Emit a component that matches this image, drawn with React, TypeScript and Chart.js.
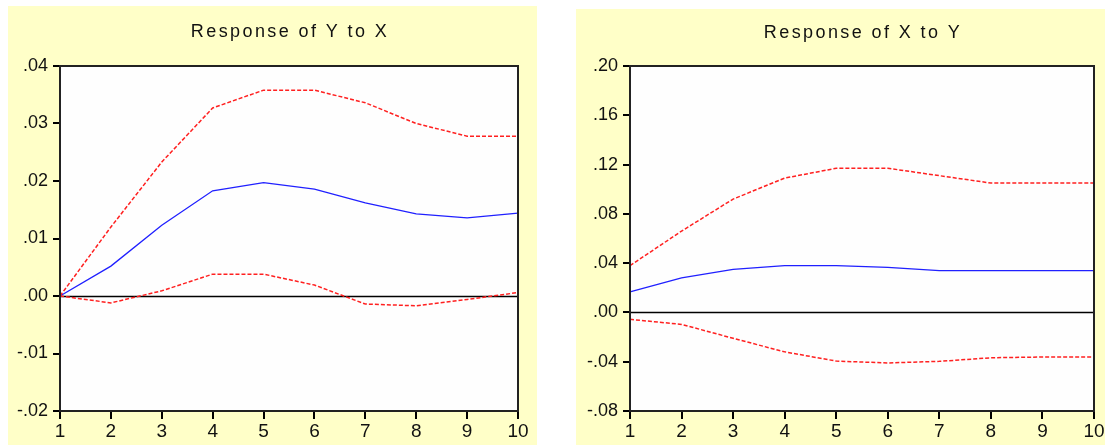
import React, { useEffect, useRef } from 'react';
import { Chart, registerables } from 'chart.js';

Chart.register(...registerables);

const periods = ['1', '2', '3', '4', '5', '6', '7', '8', '9', '10'];

const yToXResponse = [0, 0.0052, 0.0123, 0.0183, 0.0197, 0.0186, 0.0162, 0.0143, 0.0136, 0.0144];
const yToXUpper = [0, 0.012, 0.0233, 0.0327, 0.0358, 0.0358, 0.0336, 0.03, 0.0278, 0.0278];
const yToXLower = [0, -0.0012, 0.0009, 0.0038, 0.0038, 0.0019, -0.0014, -0.0017, -0.0006, 0.0006];

const xToYResponse = [0.0166, 0.028, 0.035, 0.038, 0.038, 0.0365, 0.034, 0.034, 0.034, 0.034];
const xToYUpper = [0.038, 0.066, 0.092, 0.109, 0.117, 0.117, 0.111, 0.105, 0.105, 0.105];
const xToYLower = [-0.0056, -0.0097, -0.021, -0.032, -0.0395, -0.041, -0.0397, -0.0368, -0.0362, -0.0362];

const FONT = '"Liberation Sans", Arial, sans-serif';

function fmt(v: number): string {
  if (Math.abs(v) < 1e-9) return '.00';
  const s = v.toFixed(2);
  return s.replace(/^(-?)0\./, '$1.');
}

type PanelProps = {
  title: string;
  response: number[];
  upper: number[];
  lower: number[];
  yMin: number;
  yMax: number;
  yStep: number;
  left: number;
  top: number;
  width: number;
  height: number;
  padL: number;
  padR: number;
  padT: number;
  padB: number;
  titleBaseline: number;
};

function Panel(p: PanelProps) {
  const ref = useRef<HTMLCanvasElement | null>(null);
  useEffect(() => {
    if (!ref.current) return;
    const framePlugin = {
      id: 'frame',
      beforeDraw(chart: any) {
        const { ctx, chartArea: a } = chart;
        ctx.save();
        ctx.fillStyle = '#fefefe';
        ctx.fillRect(a.left, a.top, a.right - a.left, a.bottom - a.top);
        ctx.restore();
      },
      beforeDatasetsDraw(chart: any) {
        const { ctx, chartArea: a, scales } = chart;
        const y0 = Math.round(scales.y.getPixelForValue(0)) + 0.5;
        ctx.save();
        ctx.strokeStyle = '#000';
        ctx.lineWidth = 1.5;
        ctx.beginPath();
        ctx.moveTo(a.left, y0);
        ctx.lineTo(a.right, y0);
        ctx.stroke();
        ctx.restore();
      },
      afterDraw(chart: any) {
        const { ctx, chartArea: a } = chart;
        ctx.save();
        ctx.strokeStyle = '#222';
        ctx.lineWidth = 2;
        ctx.strokeRect(a.left, a.top, a.right - a.left, a.bottom - a.top);
        (ctx as any).letterSpacing = '2.4px';
        ctx.fillStyle = '#111';
        ctx.font = '18px ' + FONT;
        ctx.textAlign = 'center';
        ctx.textBaseline = 'alphabetic';
        ctx.fillText(p.title, (a.left + a.right) / 2 + 1, p.titleBaseline);
        (ctx as any).letterSpacing = '0px';
        ctx.restore();
      },
    };

    const chart = new Chart(ref.current, {
      type: 'line',
      data: {
        labels: periods,
        datasets: [
          {
            data: p.upper,
            borderColor: '#ff2020',
            borderWidth: 1.5,
            borderDash: [4, 2],
            pointRadius: 0,
            tension: 0,
            fill: false,
          },
          {
            data: p.lower,
            borderColor: '#ff2020',
            borderWidth: 1.5,
            borderDash: [4, 2],
            pointRadius: 0,
            tension: 0,
            fill: false,
          },
          {
            data: p.response,
            borderColor: '#2020ff',
            borderWidth: 1.3,
            pointRadius: 0,
            tension: 0,
            fill: false,
          },
        ],
      },
      options: {
        responsive: false,
        animation: false,
        events: [],
        layout: { padding: { left: 0, right: p.padR, top: p.padT, bottom: 0 } },
        plugins: {
          legend: { display: false },
          tooltip: { enabled: false },
          title: { display: false },
        },
        scales: {
          x: {
            type: 'category',
            offset: false,
            border: { display: false },
            grid: {
              offset: false,
              drawOnChartArea: false,
              drawTicks: true,
              tickLength: 8,
              color: '#000',
              lineWidth: 2,
            },
            ticks: {
              autoSkip: false,
              maxRotation: 0,
              minRotation: 0,
              padding: 1,
              color: '#111',
              font: { family: FONT, size: 19 },
            },
            afterFit: (s: any) => {
              s.height = p.padB;
              s.paddingLeft = 0;
              s.paddingRight = 0;
            },
          },
          y: {
            type: 'linear',
            min: p.yMin,
            max: p.yMax,
            border: { display: false },
            grid: {
              drawOnChartArea: false,
              drawTicks: true,
              tickLength: 7,
              color: '#000',
              lineWidth: 2,
            },
            ticks: {
              stepSize: p.yStep,
              padding: 5,
              color: '#111',
              font: { family: FONT, size: 18 },
              callback: (v: any) => fmt(Number(v)),
            },
            afterFit: (s: any) => {
              s.width = p.padL;
              s.paddingTop = 0;
              s.paddingBottom = 0;
            },
          },
        },
      },
      plugins: [framePlugin],
    } as any);
    return () => chart.destroy();
  }, []);

  return (
    <div
      style={{
        position: 'absolute',
        left: p.left,
        top: p.top,
        width: p.width,
        height: p.height,
        background: '#ffffc8',
      }}
    >
      <canvas ref={ref} width={p.width} height={p.height} style={{ display: 'block', width: p.width, height: p.height }} />
    </div>
  );
}

export default function App() {
  return (
    <div style={{ position: 'fixed', left: 0, top: 0, width: 1105, height: 445, background: '#ffffff', overflow: 'hidden' }}>
      <Panel
        title="Response of Y to X"
        response={yToXResponse}
        upper={yToXUpper}
        lower={yToXLower}
        yMin={-0.02}
        yMax={0.04}
        yStep={0.01}
        left={8}
        top={6}
        width={529}
        height={439}
        padL={52}
        padR={19}
        padT={60}
        padB={34}
        titleBaseline={31}
      />
      <Panel
        title="Response of X to Y"
        response={xToYResponse}
        upper={xToYUpper}
        lower={xToYLower}
        yMin={-0.08}
        yMax={0.2}
        yStep={0.04}
        left={576}
        top={9}
        width={529}
        height={436}
        padL={54}
        padR={11}
        padT={57}
        padB={34}
        titleBaseline={29}
      />
    </div>
  );
}
